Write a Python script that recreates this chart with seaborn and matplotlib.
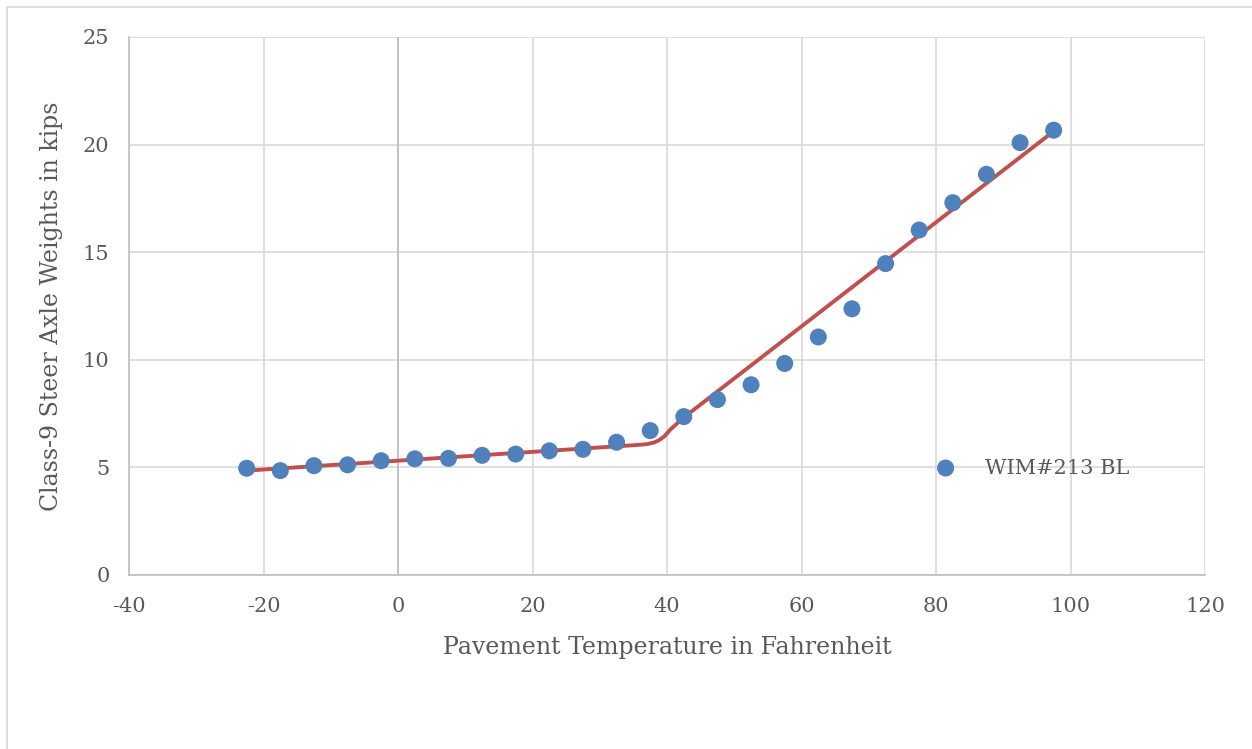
import numpy as np
import pandas as pd
import matplotlib
matplotlib.use("Agg")
import matplotlib.pyplot as plt
import seaborn as sns
from matplotlib.patches import Rectangle

# Measured points (pavement temperature vs steer axle weight)
temps = [-22.5, -17.5, -12.5, -7.5, -2.5, 2.5, 7.5, 12.5, 17.5, 22.5, 27.5, 32.5,
         37.5, 42.5, 47.5, 52.5, 57.5, 62.5, 67.5, 72.5, 77.5, 82.5, 87.5, 92.5, 97.5]
weights = [4.96, 4.85, 5.08, 5.12, 5.31, 5.40, 5.42, 5.56, 5.62, 5.77, 5.84, 6.17,
           6.71, 7.36, 8.15, 8.84, 9.83, 11.06, 12.37, 14.47, 16.03, 17.30, 18.62, 20.09, 20.67]

# Fitted bilinear trend
fit_temps = [-22.5, 35.5, 37.0, 38.0, 38.8, 39.6, 40.5, 42.5, 97.5]
fit_weights = [4.85, 6.04, 6.08, 6.15, 6.26, 6.44, 6.76, 7.32, 20.62]

series_name = "WIM#213 BL"
x_ticks = [-40, -20, 0, 20, 40, 60, 80, 100, 120]
y_ticks = [0, 5, 10, 15, 20, 25]

df = pd.DataFrame({"temp": temps, "weight": weights})
fit = pd.DataFrame({"temp": fit_temps, "weight": fit_weights})

sns.set_theme(style="white")
plt.rcParams['font.family'] = ['DejaVu Serif', 'DejaVu Sans']
plt.rcParams['axes.unicode_minus'] = False
text_col = "#595959"
grid_col = "#d9d9d9"

fig = plt.figure(figsize=(12.52, 7.49), dpi=100)
ax = fig.add_axes([129 / 1252, 1 - 575 / 749, (1205 - 129) / 1252, (575 - 37) / 749])

# chart outer border (left/top visible)
fig.patches.append(Rectangle((7 / 1252, -0.1), 1.2, 1 - 7 / 749 + 0.1,
                             transform=fig.transFigure, fill=False,
                             edgecolor=grid_col, linewidth=1.2))

ax.set_xlim(-40, 120)
ax.set_ylim(0, 25)
ax.set_xticks(x_ticks)
ax.set_yticks(y_ticks)
ax.grid(True, color=grid_col, linewidth=1.2)
ax.set_axisbelow(True)
ax.axvline(0, color="#bfbfbf", linewidth=1.3, zorder=1)
for side in ["top", "right"]:
    ax.spines[side].set_visible(False)
for side in ["left", "bottom"]:
    ax.spines[side].set_color("#bfbfbf")
    ax.spines[side].set_linewidth(1.2)

sns.lineplot(data=fit, x="temp", y="weight", ax=ax, color="#c0504d",
             linewidth=2.8, sort=False, zorder=2, legend=False)
sns.scatterplot(data=df, x="temp", y="weight", ax=ax, color="#4f81bd",
                s=150, edgecolor="none", zorder=3, label=series_name)

ax.tick_params(axis="both", labelsize=15, colors=text_col, length=0)
ax.tick_params(axis="x", pad=16)
ax.tick_params(axis="y", pad=14)
ax.set_xlabel("Pavement Temperature in Fahrenheit", fontsize=17, color=text_col, labelpad=14)
ax.set_ylabel("Class-9 Steer Axle Weights in kips", fontsize=17, color=text_col, labelpad=14)

leg = ax.legend(loc="center left", bbox_to_anchor=(906 / 1252, 1 - 468 / 749),
                bbox_transform=fig.transFigure, frameon=False, fontsize=15,
                handletextpad=0.9, markerscale=1.0)
for t in leg.get_texts():
    t.set_color(text_col)

fig.savefig("out.png", dpi=100, facecolor="white")
